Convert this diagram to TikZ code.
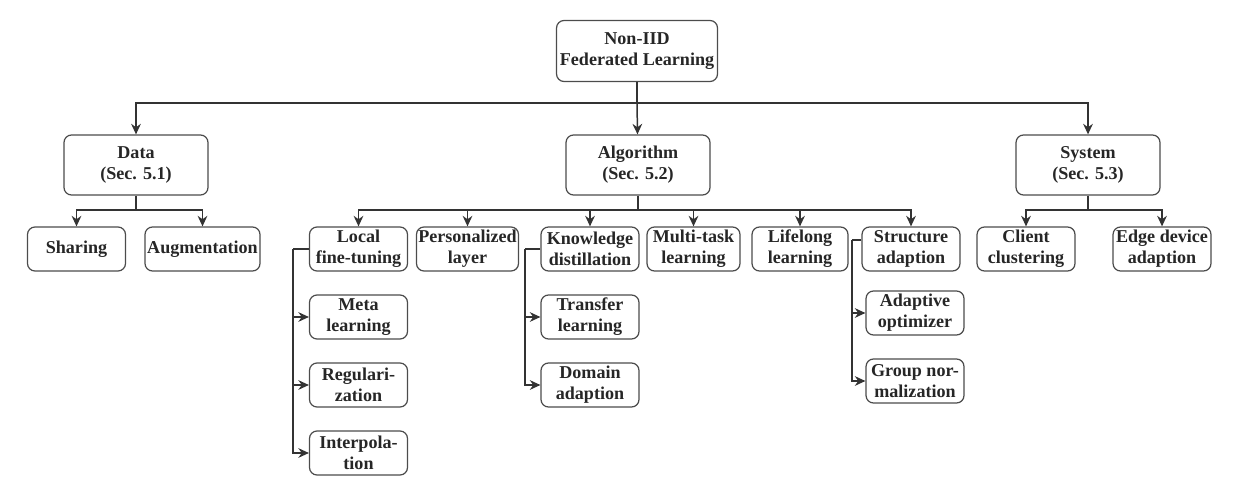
\documentclass[tikz,border=0pt]{standalone}
\usepackage{fontspec}
\setmainfont{Liberation Serif}
\usetikzlibrary{arrows.meta}

\tikzset{
	box/.style={draw=black!70, line width=0.7pt, rounded corners=0.15cm, align=center,
		inner xsep=1pt, inner ysep=0pt, text=black!85,
		font=\bfseries\fontsize{10.3}{12}\selectfont,
		minimum width=1.96cm, minimum height=0.88cm},
	topbox/.style={box, minimum width=2.88cm, minimum height=1.2cm},
	link/.style={draw=black!80, line width=0.85pt},
	arr/.style={link, -{Stealth[length=6pt,width=5.5pt]}}
}

\begin{document}
\begin{tikzpicture}[x=0.02cm,y=-0.02cm]
		\useasboundingbox (0,0) rectangle (1256,496);

		% root and first level
		\node [topbox, minimum width=3.22cm, minimum height=1.22cm] (root) at (637,51) {Non-IID\\Federated Learning};
		\node [topbox] (data) at (136,165) {Data\\(Sec. 5.1)};
		\node [topbox] (alg) at (638,165) {Algorithm\\(Sec. 5.2)};
		\node [topbox] (sys) at (1088,165) {System\\(Sec. 5.3)};

		% second level
		\node [box] (share) at (76.5,249) {Sharing};
		\node [box, minimum width=2.3cm] (augm) at (202.5,249) {Augmentation};
		\node [box] (loc) at (358.5,249) {Local\\fine-tuning};
		\node [box] (pers) at (467.5,249) {Personalized\\layer};
		\node [box] (know) at (590,249) {Knowledge\\distillation};
		\node [box, minimum width=1.86cm] (multi) at (693.5,249) {Multi-task\\learning};
		\node [box, minimum width=1.92cm] (life) at (800,249) {Lifelong\\learning};
		\node [box] (struct) at (911,249) {Structure\\adaption};
		\node [box] (client) at (1026,249) {Client\\clustering};
		\node [box] (edge) at (1162,249) {Edge device\\adaption};

		% third level
		\node [box] (meta) at (358.5,317) {Meta\\learning};
		\node [box] (regu) at (358.5,385) {Regulari-\\zation};
		\node [box] (inter) at (358.5,453) {Interpola-\\tion};
		\node [box] (trans) at (590,317) {Transfer\\learning};
		\node [box] (domain) at (590,385) {Domain\\adaption};
		\node [box] (adapt) at (915,313) {Adaptive\\optimizer};
		\node [box] (group) at (915,381) {Group nor-\\malization};

		% buses
		\coordinate (rootbus) at (637,103);
		\coordinate (databus) at (136,210);
		\coordinate (algbus) at (638,210);
		\coordinate (sysbus) at (1088,210);
		\coordinate (locbar) at (293,249);
		\coordinate (knowbar) at (525,249);
		\coordinate (structbar) at (852,240);

		\draw [link] (root) -- (rootbus);
		\draw [arr] (rootbus) -| (data);
		\draw [arr] (rootbus) -- (alg);
		\draw [arr] (rootbus) -| (sys);

		\draw [link] (data) -- (databus);
		\draw [arr] (databus) -| (share);
		\draw [arr] (databus) -| (augm);

		\draw [link] (alg) -- (algbus);
		\draw [arr] (algbus) -| (loc);
		\draw [arr] (algbus) -| (pers);
		\draw [arr] (algbus) -| (know);
		\draw [arr] (algbus) -| (multi);
		\draw [arr] (algbus) -| (life);
		\draw [arr] (algbus) -| (struct);

		\draw [link] (sys) -- (sysbus);
		\draw [arr] (sysbus) -| (client);
		\draw [arr] (sysbus) -| (edge);

		% side chains
		\draw [link] (loc.west) -- (locbar);
		\draw [arr] (locbar) |- (meta);
		\draw [arr] (locbar) |- (regu);
		\draw [arr] (locbar) |- (inter);

		\draw [link] (know.west) -- (knowbar);
		\draw [arr] (knowbar) |- (trans);
		\draw [arr] (knowbar) |- (domain);

		\draw [link] (struct.west |- structbar) -- (structbar);
		\draw [arr] (structbar) |- (adapt);
		\draw [arr] (structbar) |- (group);

		\end{tikzpicture}
\end{document}
